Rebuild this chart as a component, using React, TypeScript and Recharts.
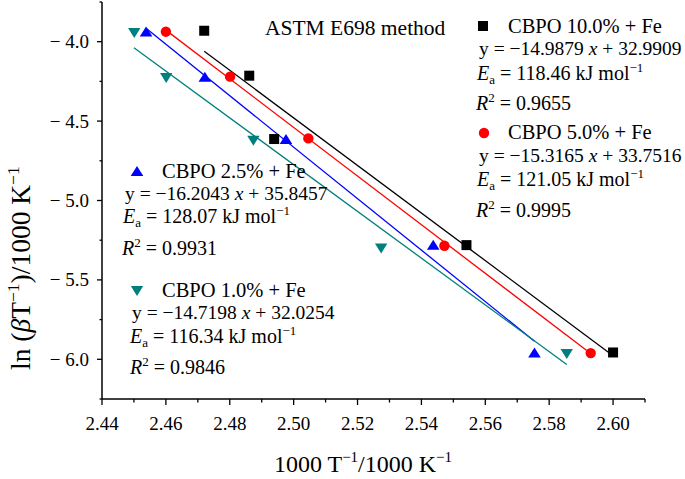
import { ScatterChart, Scatter, XAxis, YAxis } from 'recharts';

// heating-rate points: x = 1000/T, y = ln(beta/T)
const blackX = [2.472, 2.4861, 2.4939, 2.5541, 2.6];
const blackY = [-3.931, -4.214, -4.613, -5.281, -5.957];
const redX = [2.46, 2.4801, 2.5046, 2.5472, 2.593];
const redY = [-3.937, -4.22, -4.609, -5.285, -5.961];
const blueX = [2.4538, 2.4722, 2.4976, 2.5437, 2.5754];
const blueY = [-3.935, -4.22, -4.613, -5.279, -5.957];
const tealX = [2.4501, 2.4601, 2.4874, 2.5274, 2.5855];
const tealY = [-3.945, -4.228, -4.623, -5.302, -5.967];

// fitted line end points
const blackFitX = [2.472, 2.6];
const blackFitY = [-4.06, -5.978];
const redFitX = [2.46, 2.593];
const redFitY = [-3.927, -5.964];
const blueFitX = [2.4538, 2.5754];
const blueFitY = [-3.916, -5.886];
const tealFitX = [2.45, 2.5855];
const tealFitY = [-4.038, -6.033];

const xTicks = [2.44, 2.45, 2.46, 2.47, 2.48, 2.49, 2.5, 2.51, 2.52, 2.53, 2.54, 2.55, 2.56, 2.57, 2.58, 2.59, 2.6, 2.61];
const yTicks = [-6.25, -6.0, -5.75, -5.5, -5.25, -5.0, -4.75, -4.5, -4.25, -4.0, -3.75];

const FONT = '"Liberation Serif", "Times New Roman", serif';
const BLACK = '#000000';
const RED = '#ff0000';
const BLUE = '#0000ff';
const TEAL = '#007f7f';

const pts = (xs: number[], ys: number[]) => xs.map((x, i) => ({ x, y: ys[i] }));

const Square = ({ cx, cy, fill }: any) => <rect x={cx - 5} y={cy - 5} width={10} height={10} fill={fill} />;
const Dot = ({ cx, cy, fill }: any) => <circle cx={cx} cy={cy} r={5.2} fill={fill} />;
const Up = ({ cx, cy, fill }: any) => (
  <polygon points={`${cx - 6.3},${cy + 5} ${cx + 6.3},${cy + 5} ${cx},${cy - 5}`} fill={fill} />
);
const Down = ({ cx, cy, fill }: any) => (
  <polygon points={`${cx - 6.2},${cy - 5} ${cx + 6.2},${cy - 5} ${cx},${cy + 5}`} fill={fill} />
);
const NoShape = () => <g />;

const XTick = ({ x, y, payload }: any) => {
  const v = payload.value as number;
  const major = Math.round(v * 100) % 2 === 0;
  return (
    <g>
      <line x1={x} y1={y} x2={x} y2={y + (major ? 6 : 3.5)} stroke="#000" strokeWidth={1.3} />
      {major && (
        <text x={x} y={y + 31} textAnchor="middle" fontSize={19} fontFamily={FONT} fill="#000">
          {v.toFixed(2)}
        </text>
      )}
    </g>
  );
};

const YTick = ({ x, y, payload }: any) => {
  const v = payload.value as number;
  const major = Math.abs(Math.round(v * 4)) % 2 === 0;
  return (
    <g>
      <line x1={x - (major ? 5 : 2.5)} y1={y} x2={x} y2={y} stroke="#000" strokeWidth={1.3} />
      {major && (
        <text x={x - 13} y={y + 6.5} textAnchor="end" fontSize={19} fontFamily={FONT} fill="#000">
          {v.toFixed(1).replace('-', '\u2212 ')}
        </text>
      )}
    </g>
  );
};

const Ea = ({ x, y, val }: { x: number; y: number; val: string }) => (
  <text x={x} y={y} fontSize={20} fontFamily={FONT}>
    <tspan fontStyle="italic">E</tspan>
    <tspan fontSize={13} dy={4}>a</tspan>
    <tspan dy={-4}>{` = ${val} kJ mol`}</tspan>
    <tspan fontSize={13} dy={-8}>{'\u22121'}</tspan>
  </text>
);

const R2 = ({ x, y, val }: { x: number; y: number; val: string }) => (
  <text x={x} y={y} fontSize={20} fontFamily={FONT}>
    <tspan fontStyle="italic">R</tspan>
    <tspan fontSize={13} dy={-8}>2</tspan>
    <tspan dy={8}>{` = ${val}`}</tspan>
  </text>
);

const Eq = ({ x, y, a, b }: { x: number; y: number; a: string; b: string }) => (
  <text x={x} y={y} fontSize={19.5} fontFamily={FONT}>
    {`y = \u2212${a} `}
    <tspan fontStyle="italic">x</tspan>
    {` + ${b}`}
  </text>
);

const Title = ({ x, y, label }: { x: number; y: number; label: string }) => (
  <text x={x} y={y} fontSize={20.5} fontFamily={FONT}>
    {label}
  </text>
);

const Annotations = () => (
  <svg width={685} height={479} style={{ position: 'absolute', left: 0, top: 0, pointerEvents: 'none' }}>
    <text x={265} y={35} fontSize={21.5} fontFamily={FONT}>ASTM E698 method</text>

    <Square cx={483} cy={26} fill={BLACK} />
    <Title x={508} y={32.7} label="CBPO 10.0% + Fe" />
    <Eq x={479} y={55} a="14.9879" b="32.9909" />
    <Ea x={477} y={80} val="118.46" />
    <R2 x={476} y={110} val="0.9655" />

    <Dot cx={484} cy={133} fill={RED} />
    <Title x={508} y={139.3} label="CBPO 5.0% + Fe" />
    <Eq x={479} y={162} a="15.3165" b="33.7516" />
    <Ea x={477} y={185.7} val="121.05" />
    <R2 x={476} y={216.7} val="0.9995" />

    <Up cx={137} cy={171} fill={BLUE} />
    <Title x={162} y={177.7} label="CBPO 2.5% + Fe" />
    <Eq x={125} y={200} a="16.2043" b="35.8457" />
    <Ea x={123} y={223} val="128.07" />
    <R2 x={122} y={255} val="0.9931" />

    <Down cx={137} cy={291} fill={TEAL} />
    <Title x={162} y={296.7} label="CBPO 1.0% + Fe" />
    <Eq x={132} y={319.3} a="14.7198" b="32.0254" />
    <Ea x={130} y={343.3} val="116.34" />
    <R2 x={130} y={374} val="0.9846" />

    <text x={363} y={471.5} textAnchor="middle" fontSize={24} fontFamily={FONT}>
      {'1000 T'}
      <tspan fontSize={15} dy={-10}>{'\u22121'}</tspan>
      <tspan dy={10}>{'/1000 K'}</tspan>
      <tspan fontSize={15} dy={-10}>{'\u22121'}</tspan>
    </text>

    <text transform="translate(30,370) rotate(-90)" textAnchor="start" fontSize={27.5} fontFamily={FONT}>
      {'ln ('}
      <tspan fontStyle="italic">{'\u03b2'}</tspan>
      {'T'}
      <tspan fontSize={17.5} dy={-11}>{'\u22121'}</tspan>
      <tspan dy={11}>{')/1000 K'}</tspan>
      <tspan fontSize={17.5} dy={-11}>{'\u22121'}</tspan>
    </text>
  </svg>
);

export default function App() {
  return (
    <div style={{ position: 'absolute', left: 0, top: 0, width: 685, height: 479, background: '#fff' }}>
      <ScatterChart width={685} height={479} margin={{ top: 2, right: 40, bottom: 0, left: 0 }}>
        <XAxis
          type="number"
          dataKey="x"
          domain={[2.44, 2.61]}
          ticks={xTicks}
          interval={0}
          height={80}
          tickSize={0}
          tickMargin={0}
          tickLine={false}
          tick={<XTick />}
          axisLine={{ stroke: '#000', strokeWidth: 1.5 }}
        />
        <YAxis
          type="number"
          dataKey="y"
          domain={[-6.25, -3.75]}
          ticks={yTicks}
          interval={0}
          width={102}
          tickSize={0}
          tickMargin={0}
          tickLine={false}
          tick={<YTick />}
          axisLine={{ stroke: '#000', strokeWidth: 1.5 }}
        />
        <Scatter data={pts(blackFitX, blackFitY)} line={{ stroke: BLACK, strokeWidth: 1.3 }} shape={NoShape} isAnimationActive={false} />
        <Scatter data={pts(redFitX, redFitY)} line={{ stroke: RED, strokeWidth: 1.3 }} shape={NoShape} isAnimationActive={false} />
        <Scatter data={pts(blueFitX, blueFitY)} line={{ stroke: BLUE, strokeWidth: 1.3 }} shape={NoShape} isAnimationActive={false} />
        <Scatter data={pts(tealFitX, tealFitY)} line={{ stroke: TEAL, strokeWidth: 1.3 }} shape={NoShape} isAnimationActive={false} />
        <Scatter data={pts(blackX, blackY)} fill={BLACK} shape={Square} isAnimationActive={false} />
        <Scatter data={pts(redX, redY)} fill={RED} shape={Dot} isAnimationActive={false} />
        <Scatter data={pts(blueX, blueY)} fill={BLUE} shape={Up} isAnimationActive={false} />
        <Scatter data={pts(tealX, tealY)} fill={TEAL} shape={Down} isAnimationActive={false} />
      </ScatterChart>
      <Annotations />
    </div>
  );
}
